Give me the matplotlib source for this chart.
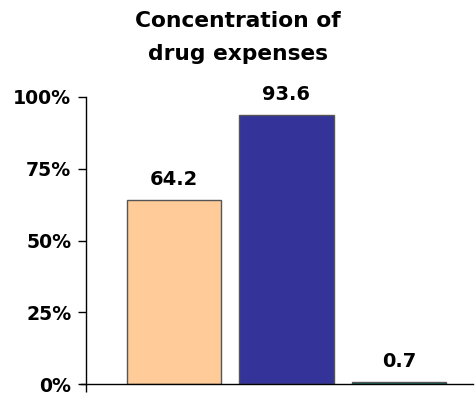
import matplotlib
matplotlib.use("Agg")
import matplotlib.pyplot as plt
from matplotlib.ticker import FuncFormatter

categories = ["A", "B", "C"]
values = [64.2, 93.6, 0.7]
colors = ["#FFCC99", "#333399", "#007060"]
yticks = [0, 25, 50, 75, 100]
title = "Concentration of\ndrug expenses"

plt.rcParams["font.family"] = ["DejaVu Sans"]
plt.rcParams["font.weight"] = "bold"

fig = plt.figure(figsize=(4.75, 3.94), dpi=100)
ax = fig.add_axes([86 / 475, 10 / 394, (473 - 86) / 475, (384 - 97) / 394])

x = list(range(len(categories)))
ax.bar(x, values, width=0.836, color=colors, edgecolor="#555555", linewidth=1.0, zorder=2)

for xi, v in zip(x, values):
    ax.text(xi, v + 3.8, f"{v:.1f}", ha="center", va="bottom",
            fontsize=14, fontweight="bold")

ax.set_xlim(-0.782, 2.658)
ax.set_ylim(0, 100)
ax.set_yticks(yticks)
ax.yaxis.set_major_formatter(FuncFormatter(lambda v, p: f"{int(v)}%"))
ax.tick_params(axis="y", direction="out", length=6, width=1, pad=4.5,
               labelsize=13.6)
ax.set_xticks([-0.782])
ax.set_xticklabels([""])
ax.tick_params(axis="x", direction="out", length=6, width=1)
for lab in ax.get_yticklabels():
    lab.set_fontweight("bold")

ax.spines["top"].set_visible(False)
ax.spines["right"].set_visible(False)
ax.spines["left"].set_linewidth(1)
ax.spines["bottom"].set_linewidth(1)
ax.spines["bottom"].set_bounds(-0.83, 2.658)

fig.text(0.5, 1 - 11 / 394, title, ha="center", va="top", fontsize=15.7,
         fontweight="bold", linespacing=1.8)

fig.savefig("out.png", dpi=100)
